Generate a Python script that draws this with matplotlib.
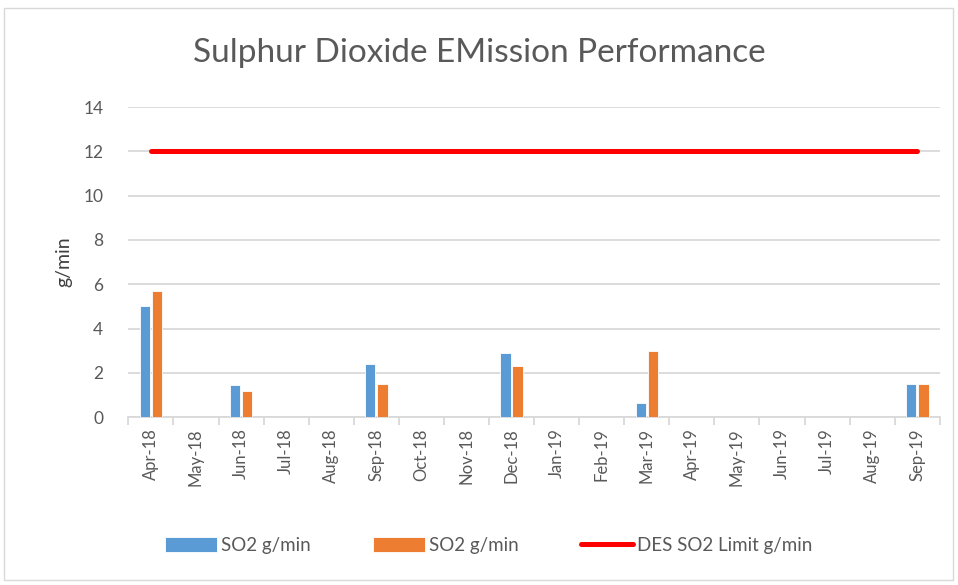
import matplotlib.pyplot as plt
import numpy as np
from matplotlib.patches import Rectangle

# datos del gráfico
meses = ['Apr-18', 'May-18', 'Jun-18', 'Jul-18', 'Aug-18', 'Sep-18', 'Oct-18',
         'Nov-18', 'Dec-18', 'Jan-19', 'Feb-19', 'Mar-19', 'Apr-19', 'May-19',
         'Jun-19', 'Jul-19', 'Aug-19', 'Sep-19']
so2_a = [5.0, 0, 1.45, 0, 0, 2.4, 0, 0, 2.9, 0, 0, 0.65, 0, 0, 0, 0, 0, 1.5]
so2_b = [5.7, 0, 1.2, 0, 0, 1.5, 0, 0, 2.3, 0, 0, 3.0, 0, 0, 0, 0, 0, 1.5]
limite = [12] * len(meses)

plt.rcParams['font.family'] = ['Lato', 'DejaVu Sans']
gris = '#595959'

fig = plt.figure(figsize=(9.58, 5.85), dpi=100)
ax = fig.add_axes([0.134, 0.287, 0.847, 0.530])

x = np.arange(len(meses))
ancho = 0.23
b1 = ax.bar(x - 0.135, so2_a, ancho, color='#5b9bd5', edgecolor='white', linewidth=0.6,
            label='SO2 g/min', zorder=3)
b2 = ax.bar(x + 0.135, so2_b, ancho, color='#ed7d31', edgecolor='white', linewidth=0.6,
            label='SO2 g/min', zorder=3)
l1, = ax.plot(x, limite, color='#ff0000', linewidth=3.6, solid_capstyle='round',
              label='DES SO2 Limit g/min', zorder=4)

ax.set_xlim(-0.5, len(meses) - 0.5)
ax.set_ylim(0, 14)
ax.set_yticks(np.arange(0, 15, 2))
ax.grid(axis='y', color='#d9d9d9', linewidth=1.3, zorder=0)
ax.set_xticks(x)
ax.set_xticklabels(meses, rotation=90)
ax.set_xticks(np.arange(-0.5, len(meses)), minor=True)
ax.tick_params(axis='x', which='major', length=0, pad=8, labelsize=12, labelcolor=gris)
ax.tick_params(axis='x', which='minor', length=6, width=1.3, color='#d9d9d9')
ax.tick_params(axis='y', length=0, pad=18, labelsize=12.5, labelcolor=gris)
for lado in ['top', 'right', 'left']:
    ax.spines[lado].set_visible(False)
ax.spines['bottom'].set_color('#d9d9d9')
ax.spines['bottom'].set_linewidth(1.3)

ax.set_ylabel('g/min', fontsize=14, color='#404040', labelpad=8)
fig.text(0.5, 0.91, 'Sulphur Dioxide EMission Performance', ha='center', va='center',
         fontsize=24, color=gris)

ax.legend(handles=[b1, b2, l1], loc='center', bbox_to_anchor=(0.51, 0.068),
          bbox_transform=fig.transFigure, ncol=3, frameon=False, fontsize=13.5,
          labelcolor=gris, handlelength=2.8, handleheight=0.9, handletextpad=0.2,
          columnspacing=3.3)

fig.patches.append(Rectangle((0.004, 0.008), 0.991, 0.978, transform=fig.transFigure,
                             fill=False, edgecolor='#d9d9d9', linewidth=1))

plt.savefig('out.png', dpi=100)
